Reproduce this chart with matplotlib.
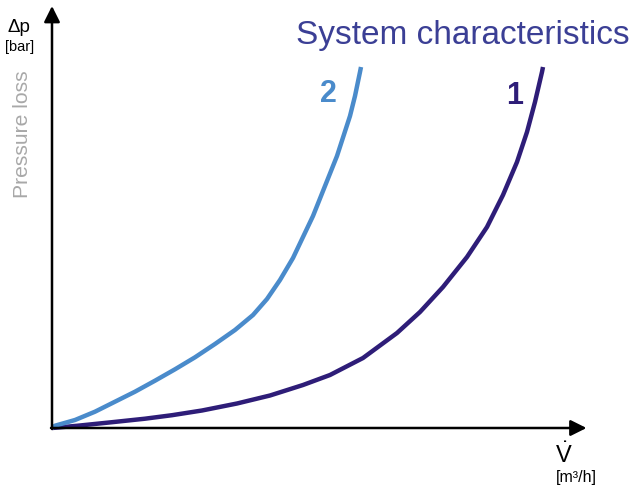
import matplotlib
matplotlib.use("Agg")
import matplotlib.pyplot as plt

plt.rcParams['font.family'] = ['Liberation Sans', 'DejaVu Sans']
plt.rcParams['mathtext.fontset'] = 'custom'
plt.rcParams['mathtext.rm'] = 'Liberation Sans'

# Curve 1 (dark): flow vs pressure loss (arbitrary units)
flow_1 = [0, 25, 60, 93, 120, 150, 185, 218, 251, 278, 311, 345, 368, 391, 415,
          435, 451, 465, 475, 483, 490, 491]
dp_1 = [0, 2.2, 5.8, 9.3, 12.8, 17.5, 24.5, 32.5, 43, 53, 70, 95, 116, 141, 171,
        201, 233, 266, 296, 326, 356, 361]

# Curve 2 (light blue)
flow_2 = [0, 3, 23, 43, 63, 83, 103, 123, 143, 163, 183, 201, 215, 228, 241, 261,
          285, 298, 303, 308, 309]
dp_2 = [0, 2.3, 8, 16.3, 26.3, 36.3, 47.3, 58.7, 70.7, 84, 98, 113, 129, 148, 170, 212,
        272, 312, 332, 356, 361]

labels = ["1", "2"]
title = "System characteristics"

fig = plt.figure(figsize=(6.31, 4.86), dpi=100)
ax = fig.add_axes([0, 0, 1, 1])
ax.set_xlim(-52, 579)
ax.set_ylim(-58, 428)
ax.axis('off')

c1 = '#2e1d78'
c2 = '#4a8bcb'

ax.plot(flow_1, dp_1, color=c1, lw=3.2, solid_capstyle='butt', solid_joinstyle='round', zorder=3)
ax.plot(flow_2, dp_2, color=c2, lw=3.2, solid_capstyle='butt', solid_joinstyle='round', zorder=3)

# axes arrows
ax.annotate('', xy=(0, 422), xytext=(0, -1),
            arrowprops=dict(arrowstyle='-|>', color='black', lw=1.8, mutation_scale=24, shrinkA=0, shrinkB=0))
ax.annotate('', xy=(534.5, 0), xytext=(-1, 0),
            arrowprops=dict(arrowstyle='-|>', color='black', lw=1.8, mutation_scale=24, shrinkA=0, shrinkB=0))

# texts
ax.text(-33, 400, "Δp", fontsize=13.5, ha='center', va='center', color='black')
ax.text(-32, 381, "[bar]", fontsize=10.5, ha='center', va='center', color='black')
ax.text(-29.5, 294, "Pressure loss", fontsize=15.2, rotation=90, ha='center', va='center', color='#a8a8a8')
ax.text(578, 392, title, fontsize=24, ha='right', va='center', color='#3b3f95')
ax.text(276.5, 334.5, labels[1], fontsize=22, fontweight='bold', ha='center', va='center', color=c2)
ax.text(463, 332, labels[0], fontsize=22, fontweight='bold', ha='center', va='center', color=c1)
ax.text(511.5, -27, r"$\dot{\mathrm{V}}$", fontsize=17, ha='center', va='center', color='black')
ax.text(524.5, -49, "[m³/h]", fontsize=11.5, ha='center', va='center', color='black')

fig.savefig('out.png', dpi=100)
